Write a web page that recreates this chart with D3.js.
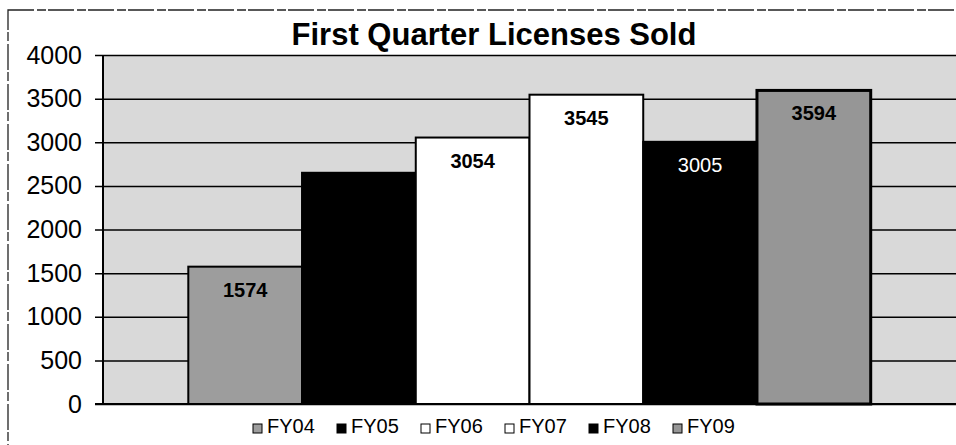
<html>
<script src="https://cdn.jsdelivr.net/npm/d3@7"></script>
<style>
body { margin: 0; background: #fff; }
text { font-family: "Liberation Sans", Arial, sans-serif; }
</style>
<body>
<div id="chart"></div>
<script>
// data
var series = ["FY04", "FY05", "FY06", "FY07", "FY08", "FY09"];
var values = [1574, 2650, 3054, 3545, 3005, 3594];
var shownLabels = ["1574", "", "3054", "3545", "3005", "3594"];
var yTicks = [0, 500, 1000, 1500, 2000, 2500, 3000, 3500, 4000];

var fills = {FY04: "#9d9d9d", FY05: "#000", FY06: "#fff", FY07: "#fff", FY08: "#000", FY09: "#969696"};
var labelColor = {FY04: "#000", FY05: "#fff", FY06: "#000", FY07: "#000", FY08: "#fff", FY09: "#000"};
var labelWeight = {FY04: "bold", FY05: "bold", FY06: "bold", FY07: "bold", FY08: "normal", FY09: "bold"};

var W = 956, H = 445;
var plot = {left: 103, right: 956, top: 55, bottom: 404};

var svg = d3.select("#chart").append("svg")
    .attr("width", W)
    .attr("height", H);

// outer chart border (scanned, a bit broken)
svg.append("rect")
    .attr("x", 8).attr("y", 10)
    .attr("width", 960).attr("height", 450)
    .attr("fill", "none")
    .attr("stroke", "#222")
    .attr("stroke-width", 1.3)
    .attr("stroke-dasharray", "26,3,9,2");

// title
svg.append("text")
    .attr("x", 494).attr("y", 45)
    .attr("text-anchor", "middle")
    .style("font-size", "31px")
    .style("font-weight", "bold")
    .text("First Quarter Licenses Sold");

var y = d3.scaleLinear().domain([0, 4000]).range([plot.bottom, plot.top]);
var x = d3.scaleBand().domain(series)
    .range([plot.left, plot.right])
    .paddingInner(0).paddingOuter(0.75);

// plot background
svg.append("rect")
    .attr("x", plot.left).attr("y", plot.top)
    .attr("width", plot.right - plot.left)
    .attr("height", plot.bottom - plot.top)
    .attr("fill", "#d9d9d9");

// gridlines + tick labels
var yAxis = svg.append("g")
    .attr("transform", "translate(" + plot.left + ",0)")
    .call(d3.axisLeft(y).tickValues(yTicks).tickFormat(d3.format("d"))
        .tickSize(-(plot.right - plot.left)).tickPadding(21));
yAxis.select(".domain").remove();
yAxis.selectAll(".tick line")
    .attr("x1", -8)
    .attr("stroke", "#000")
    .attr("stroke-width", 1.5);
yAxis.selectAll(".tick text")
    .style("font-size", "25px")
    .style("font-family", "Liberation Sans, Arial, sans-serif")
    .attr("fill", "#000");

// bars
svg.selectAll(".bar")
    .data(series)
    .enter()
    .append("rect")
    .attr("class", "bar")
    .attr("x", function(d) { return x(d); })
    .attr("y", function(d, i) { return y(values[i]); })
    .attr("width", x.bandwidth())
    .attr("height", function(d, i) { return y(0) - y(values[i]); })
    .attr("fill", function(d) { return fills[d]; })
    .attr("stroke", "#000")
    .attr("stroke-width", function(d) { return d == "FY09" ? 3 : 2; });

// data labels, inside end
svg.selectAll(".lbl")
    .data(series)
    .enter()
    .append("text")
    .attr("class", "lbl")
    .attr("x", function(d) { return x(d) + x.bandwidth() / 2; })
    .attr("y", function(d, i) { return y(values[i]) + 30; })
    .attr("text-anchor", "middle")
    .style("font-size", "20px")
    .style("font-weight", function(d) { return labelWeight[d]; })
    .attr("fill", function(d) { return labelColor[d]; })
    .text(function(d, i) { return shownLabels[i]; });

// y axis line and base line
svg.append("line")
    .attr("x1", plot.left).attr("x2", plot.left)
    .attr("y1", plot.top).attr("y2", plot.bottom)
    .attr("stroke", "#000").attr("stroke-width", 2);
svg.append("line")
    .attr("x1", plot.left - 8).attr("x2", plot.right)
    .attr("y1", plot.bottom).attr("y2", plot.bottom)
    .attr("stroke", "#000").attr("stroke-width", 2);

// legend
var legend = svg.selectAll(".leg")
    .data(series)
    .enter()
    .append("g")
    .attr("class", "leg")
    .attr("transform", function(d, i) { return "translate(" + (253 + i * 84) + ",424)"; });
legend.append("rect")
    .attr("width", 9).attr("height", 9)
    .attr("fill", function(d) { return fills[d]; })
    .attr("stroke", "#000").attr("stroke-width", 1);
legend.append("text")
    .attr("x", 14).attr("y", 9)
    .style("font-size", "20px")
    .text(function(d) { return d; });
</script>
</body>
</html>
